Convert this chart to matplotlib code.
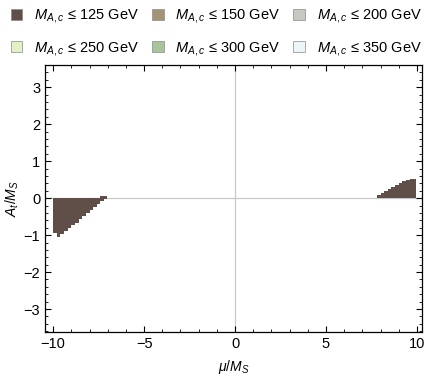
import matplotlib
matplotlib.use("Agg")
import matplotlib.pyplot as plt
from matplotlib.patches import Patch
from matplotlib.ticker import MultipleLocator

plt.rcParams['font.family'] = ['Liberation Sans', 'DejaVu Sans']
plt.rcParams['mathtext.fontset'] = 'custom'
plt.rcParams['mathtext.rm'] = 'Liberation Sans'
plt.rcParams['mathtext.it'] = 'Liberation Sans:italic'
plt.rcParams['mathtext.bf'] = 'Liberation Sans:bold'

# Legend categories
thresholds = [125, 150, 200, 250, 300, 350]
colors = ['#5f4f48', '#a39478', '#c9c7c1', '#e2f1c3', '#a9c49a', '#eef5f8']

# Region M_{A,c} <= 125 GeV, negative mu side
mu_left = [-10.0, -9.8, -9.6, -9.4, -9.2, -9.0, -8.8, -8.6, -8.4, -8.2,
           -8.0, -7.8, -7.6, -7.4, -7.2, -7.05]
lo_left = [-0.95, -1.04, -0.98, -0.90, -0.82, -0.74, -0.66, -0.57, -0.49,
           -0.40, -0.32, -0.23, -0.15, -0.07, -0.03, -0.02]
hi_left = [0.0, 0.0, 0.0, 0.0, 0.0, 0.0, 0.0, 0.0, 0.0, 0.0,
           0.0, 0.0, 0.0, 0.05, 0.05, 0.05]

# Region M_{A,c} <= 125 GeV, positive mu side
mu_right = [7.8, 8.0, 8.2, 8.4, 8.6, 8.8, 9.0, 9.2, 9.4, 9.6, 9.8, 9.95]
lo_right = [0.0] * 12
hi_right = [0.03, 0.08, 0.13, 0.19, 0.24, 0.30, 0.35, 0.41, 0.46, 0.50, 0.51, 0.52]

fig = plt.figure(figsize=(4.26, 3.78), dpi=100)
ax = fig.add_axes([45 / 426, 1 - 332 / 378, (422 - 45) / 426, (332 - 65) / 378])

ax.axhline(0, color='#c8c8c8', lw=0.9, zorder=0)
ax.axvline(0, color='#c8c8c8', lw=0.9, zorder=0)

ax.fill_between(mu_left, lo_left, hi_left, step='post', color=colors[0], lw=0, zorder=2)
ax.fill_between(mu_right, lo_right, hi_right, step='pre', color=colors[0], lw=0, zorder=2)

ax.set_xlim(-10.45, 10.28)
ax.set_ylim(-3.62, 3.6)
ax.xaxis.set_major_locator(MultipleLocator(5))
ax.xaxis.set_minor_locator(MultipleLocator(1))
ax.yaxis.set_major_locator(MultipleLocator(1))
ax.yaxis.set_minor_locator(MultipleLocator(0.2))
ax.tick_params(which='both', direction='in', top=True, right=True, labelsize=10.5, colors='black')
ax.tick_params(which='major', length=4.5, width=0.8)
ax.tick_params(which='minor', length=2.5, width=0.6)
for s in ax.spines.values():
    s.set_linewidth(0.9)

ax.set_xlabel(r'$\mu/M_S$', fontsize=10, labelpad=5)
ax.set_ylabel(r'$A_t/M_S$', fontsize=10, labelpad=2)

order = [0, 3, 1, 4, 2, 5]
handles = [Patch(facecolor=colors[i], edgecolor='#8a8a8a', linewidth=0.5,
                 label=r'$M_{A,c}$' + f' ≤ {thresholds[i]} GeV') for i in order]
fig.legend(handles=handles, ncol=3, loc='upper left', bbox_to_anchor=(-0.006, 1.016),
           frameon=False, fontsize=10.5, handlelength=0.8, handleheight=0.8,
           handletextpad=0.8, columnspacing=0.9, labelspacing=1.0)

fig.savefig('out.png', dpi=100)
